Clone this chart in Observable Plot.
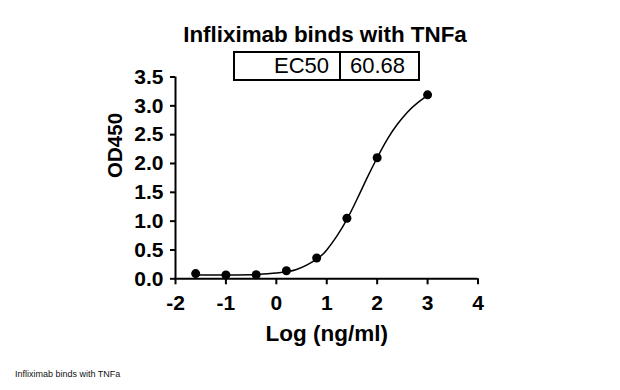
<!DOCTYPE html>
<html>
<head>
<meta charset="utf-8">
<script src="https://cdn.jsdelivr.net/npm/d3@7"></script>
<script src="https://cdn.jsdelivr.net/npm/@observablehq/plot@0.6"></script>
<style>
  html, body { margin: 0; padding: 0; background: #fff; }
  #wrap { position: relative; width: 620px; height: 390px; font-family: "Liberation Sans", Arial, sans-serif; color: #000; }
  #wrap svg { position: absolute; left: 0; top: 0; }
  #title { position: absolute; left: 25px; width: 600px; top: 24.4px; text-align: center; font-size: 22.4px; line-height: 22px; font-weight: bold; white-space: nowrap; }
  #tbl { position: absolute; left: 233px; top: 51px; width: 187px; height: 30px; box-sizing: border-box; border: 2px solid #000; display: flex; font-size: 22px; line-height: 26px; }
  #tbl .k { width: 106px; box-sizing: border-box; border-right: 2px solid #000; text-align: right; padding-right: 10px; }
  #tbl .v { flex: 1; padding-left: 9px; }
  #caption { position: absolute; left: 15px; top: 370.4px; font-size: 9px; line-height: 9px; white-space: nowrap; color: #111; }
</style>
</head>
<body>
<div id="wrap">
  <div id="title"></div>
  <div id="tbl"><div class="k"></div><div class="v"></div></div>
  <div id="caption"></div>
</div>
<script>
const chartTitle = "Infliximab binds with TNFa";
const tableKey = "EC50";
const tableValue = "60.68";
const xLabel = "Log (ng/ml)";
const yLabel = "OD450";

// measured points
const logConc = [-1.6, -1.0, -0.4, 0.2, 0.8, 1.4, 2.0, 3.0];
const od450 = [0.09, 0.065, 0.07, 0.14, 0.36, 1.05, 2.10, 3.19];

// fitted curve
const fitX = [-1.6, -1.2, -0.8, -0.4, 0.0, 0.4, 0.8, 1.0, 1.2, 1.4, 1.6, 1.8, 2.0, 2.2, 2.4, 2.6, 2.8, 3.0];
const fitY = [0.065, 0.066, 0.068, 0.075, 0.10, 0.16, 0.34, 0.50, 0.74, 1.03, 1.38, 1.75, 2.10, 2.42, 2.68, 2.89, 3.05, 3.18];

const xTicks = [-2, -1, 0, 1, 2, 3, 4];
const yTicks = [0, 0.5, 1.0, 1.5, 2.0, 2.5, 3.0, 3.5];

const points = logConc.map((x, i) => ({x, y: od450[i]}));
const fit = fitX.map((x, i) => ({x, y: fitY[i]}));

document.getElementById("title").textContent = chartTitle;
document.querySelector("#tbl .k").textContent = tableKey;
document.querySelector("#tbl .v").textContent = tableValue;
document.getElementById("caption").textContent = chartTitle;

const chart = Plot.plot({
  width: 620,
  height: 390,
  marginLeft: 175,
  marginRight: 142.5,
  marginTop: 76.5,
  marginBottom: 111.7,
  style: {fontFamily: '"Liberation Sans", Arial, sans-serif', background: "transparent", color: "#000", overflow: "visible"},
  x: {domain: [-2, 4]},
  y: {domain: [0, 3.5]},
  marks: [
    Plot.axisX({ticks: xTicks, tickFormat: d => d < 0 ? "-" + Math.abs(d) : String(d), tickSize: 6, tickPadding: 10, fontSize: 21, fontWeight: "bold", strokeWidth: 2, label: null}),
    Plot.axisY({ticks: yTicks, tickFormat: d3.format(".1f"), tickSize: 5, tickPadding: 7, fontSize: 21, fontWeight: "bold", strokeWidth: 2, label: null}),
    Plot.text([xLabel], {text: d => d, frameAnchor: "bottom", dy: 62, lineAnchor: "bottom", fontSize: 22.5, fontWeight: "bold", fill: "#000"}),
    Plot.text([yLabel], {text: d => d, frameAnchor: "left", dx: -60, rotate: -90, lineAnchor: "middle", fontSize: 20.5, fontWeight: "bold", fill: "#000"}),
    Plot.ruleX([-2], {strokeWidth: 2}),
    Plot.ruleY([0], {strokeWidth: 2}),
    Plot.line(fit, {x: "x", y: "y", curve: "natural", stroke: "#000", strokeWidth: 1.5}),
    Plot.dot(points, {x: "x", y: "y", r: 4.5, fill: "#000", stroke: "none"})
  ]
});
document.getElementById("wrap").prepend(chart);
</script>
</body>
</html>
